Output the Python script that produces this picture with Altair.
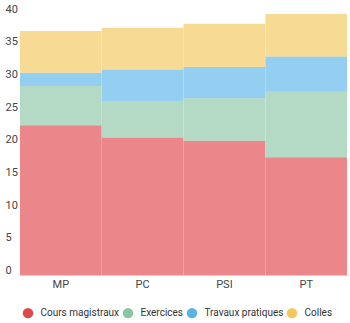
import altair as alt
import pandas as pd

filieres = ["MP", "PC", "PSI", "PT"]
series = ["Cours magistraux", "Exercices", "Travaux pratiques", "Colles"]
cours = [23.0, 21.1, 20.6, 18.1]
exercices = [6.0, 5.5, 6.5, 10.0]
tp = [2.0, 4.9, 4.8, 5.4]
colles = [6.4, 6.4, 6.6, 6.5]
colors = ["#e0474c", "#8cc5a5", "#5ab3e8", "#f2c85b"]
y_ticks = [0, 5, 10, 15, 20, 25, 30, 35, 40]

rows = []
for i, f in enumerate(filieres):
    for j, (s, vals) in enumerate(zip(series, [cours, exercices, tp, colles])):
        rows.append({"filiere": f, "serie": s, "heures": vals[i], "ordre": j})
df = pd.DataFrame(rows)

chart = alt.Chart(df).mark_bar(opacity=0.65).encode(
    x=alt.X("filiere:N", sort=filieres,
            scale=alt.Scale(paddingInner=0.002, paddingOuter=0),
            axis=alt.Axis(title=None, labelAngle=0, domain=False, ticks=False,
                          labelPadding=3, labelFontSize=11, labelColor="#444",
                          labelFont="Roboto")),
    y=alt.Y("heures:Q", stack="zero",
            scale=alt.Scale(domain=[0, 40], nice=False),
            axis=alt.Axis(title=None, values=y_ticks, grid=False, domain=False,
                          ticks=False, labelAlign="left", labelBaseline="bottom",
                          labelPadding=15, labelFontSize=11, labelColor="#444",
                          labelFont="Roboto")),
    color=alt.Color("serie:N", sort=series,
                    scale=alt.Scale(domain=series, range=colors),
                    legend=alt.Legend(title=None, orient="none", direction="horizontal",
                                      legendX=2.5, legendY=293.5, padding=0,
                                      symbolType="circle", symbolSize=110,
                                      symbolOpacity=1, symbolStrokeWidth=0,
                                      labelFontSize=10, labelFont="Roboto",
                                      labelColor="#333", columnPadding=3,
                                      labelOffset=7)),
    order=alt.Order("ordre:Q"),
).properties(
    width=327, height=261.5,
    padding={"left": 20, "top": 14, "right": 3, "bottom": 47.5},
    autosize=alt.AutoSizeParams(type="none"),
).configure_view(stroke=None)

chart.save("out.html", embed_options={"renderer": "svg", "actions": False})
